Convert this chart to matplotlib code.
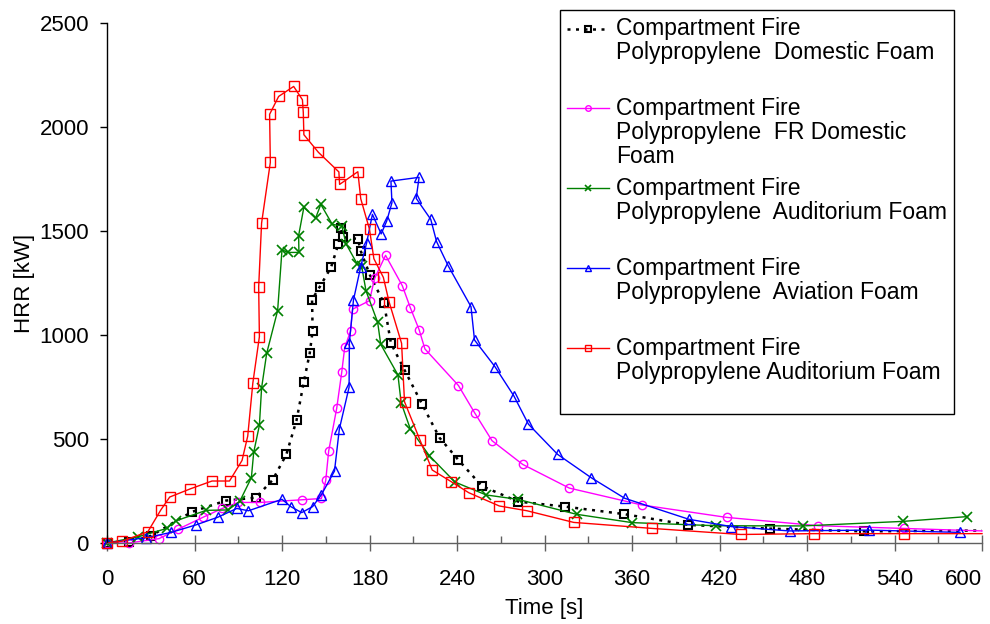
import matplotlib
matplotlib.use("Agg")
import matplotlib.pyplot as plt

plt.rcParams['font.family'] = ['Liberation Sans', 'DejaVu Sans']
plt.rcParams['font.size'] = 16

# Domestic foam (black dotted)
t_dom = [0, 15, 30, 58, 81.6, 102, 113.6, 123, 130, 135, 139, 141, 140.6, 146, 153.6,
         158.6, 160.7, 162, 172, 174, 180.3, 190, 194.7, 204, 216, 228, 241, 257, 282,
         314, 354.5, 398.6, 454.6, 519, 600]
hrr_dom = [0, 3, 34, 149, 204, 218, 303, 426, 591, 776, 912, 1019, 1170, 1233, 1325,
           1436, 1516, 1470, 1462, 1404, 1288, 1152, 960, 832, 668, 506, 399, 274, 199,
           175, 139, 87, 69, 56, 60]

# FR domestic foam (magenta)
t_fr = [0, 15, 35.7, 49, 65.6, 79, 90, 105, 134, 147, 150, 152, 157.5, 161, 163, 167,
        168.4, 180, 183.5, 191, 202.5, 208, 214, 218, 241, 252, 264, 285, 317, 366.6,
        425, 487.8, 546.5, 600]
hrr_fr = [0, 0, 21, 67, 123, 166, 195, 195, 208, 214, 301, 442, 647, 823, 940, 1018,
          1124, 1165, 1272, 1383, 1237, 1131, 1026, 933, 757, 627, 492, 378, 264, 183,
          123, 83, 70, 58]

# Auditorium foam (green)
t_aud = [0, 21.5, 41, 47, 68, 83, 91, 99, 100.6, 104.5, 106, 109.5, 117, 120, 124,
         131.6, 131.4, 135, 143, 146.6, 154.5, 161, 164, 171.7, 174.6, 177.6, 185.6,
         187.7, 199.5, 201.7, 208, 221, 238.6, 260, 281.6, 322, 360, 417.6, 477, 546, 590]
hrr_aud = [0, 30, 70, 106, 157, 159, 200, 314, 436, 566, 745, 912, 1117, 1410, 1397,
           1397, 1478, 1614, 1561, 1628, 1532, 1524, 1437, 1340, 1332, 1212, 1061,
           955, 808, 674, 548, 420, 293, 231, 210, 138, 98, 83, 82, 104, 127]

# Aviation foam (blue)
t_avi = [0, 27, 44, 61, 76, 89, 97, 120, 126, 133.5, 141, 147, 156, 159.3, 166, 166.2,
         169, 174, 178, 182, 188, 191.8, 195.4, 194.7, 214, 212, 222, 226, 234, 249.6,
         252, 266, 279, 289, 309, 332, 355, 399, 428, 468, 522.5, 585]
hrr_avi = [0, 26, 51, 87, 124, 166, 155, 210, 175, 146, 175, 232, 346, 547, 749, 963,
           1168, 1329, 1442, 1580, 1486, 1548, 1636, 1740, 1758, 1657, 1556, 1449, 1332,
           1136, 976, 848, 707, 571, 426, 314, 215, 114, 79, 58, 62, 51]

# Auditorium foam, second test (red)
t_aud2 = [0, 10, 28, 37, 43, 57, 72, 84, 92.6, 96.5, 100, 104.5, 104, 106, 112, 111.5,
          117.7, 128, 134, 134.6, 135, 145, 159, 159.5, 172, 174, 180, 183, 189.5,
          193.4, 202, 204, 214.6, 223, 236, 248, 269, 288, 320, 374, 434.5, 484.6,
          546.5, 600]
hrr_aud2 = [0, 8, 54, 160, 221, 260, 298, 298, 397, 514, 769, 992, 1231, 1538, 1830,
            2061, 2147, 2195, 2131, 2070, 1963, 1878, 1784, 1724, 1785, 1655, 1508,
            1367, 1277, 1160, 960, 679, 495, 351, 295, 242, 178, 155, 99, 70, 41, 45,
            45, 45]

labels = [
    "Compartment Fire\nPolypropylene  Domestic Foam\n",
    "Compartment Fire\nPolypropylene  FR Domestic\nFoam",
    "Compartment Fire\nPolypropylene  Auditorium Foam\n",
    "Compartment Fire\nPolypropylene  Aviation Foam\n",
    "Compartment Fire\nPolypropylene Auditorium Foam\n",
]

fig = plt.figure(figsize=(9.9, 6.24), dpi=100)
ax = fig.add_axes([107 / 990, 1 - 543 / 624, 875 / 990, 520 / 624])

ax.plot(t_dom, hrr_dom, color='black', linestyle=(0, (1.2, 2.2)), linewidth=1.8,
        marker='s', markersize=5.5, markerfacecolor='none', markeredgewidth=1.5,
        markevery=slice(0, -1), label=labels[0], clip_on=False)
ax.plot(t_fr, hrr_fr, color='#ff00ff', linewidth=1.0, marker='o', markersize=6,
        markerfacecolor='none', markeredgewidth=1.0, markevery=slice(0, -1),
        label=labels[1], clip_on=False)
ax.plot(t_aud, hrr_aud, color='#008000', linewidth=1.0, marker='x', markersize=6.5,
        markeredgewidth=1.2, label=labels[2], clip_on=False)
ax.plot(t_avi, hrr_avi, color='#0000ff', linewidth=1.0, marker='^', markersize=6.5,
        markerfacecolor='none', markeredgewidth=1.0, label=labels[3], clip_on=False)
ax.plot(t_aud2, hrr_aud2, color='#ff0000', linewidth=1.0, marker='s', markersize=6.5,
        markerfacecolor='none', markeredgewidth=1.0, markevery=slice(0, -1),
        label=labels[4], clip_on=False)

ax.set_xlim(0, 600)
ax.set_ylim(0, 2500)
ax.set_xticks(range(0, 601, 60))
ax.set_xticks(range(30, 600, 60), minor=True)
ax.set_yticks(range(0, 2501, 500))

ax.spines['top'].set_visible(False)
ax.spines['right'].set_visible(False)
ax.spines['left'].set_linewidth(1.0)
ax.spines['bottom'].set_linewidth(1.0)
ax.spines['bottom'].set_color('#606060')

ax.tick_params(axis='x', which='major', direction='inout', length=12, width=1.0,
               color='#606060', pad=12.5)
ax.tick_params(axis='x', which='minor', direction='in', length=5, width=1.0,
               color='#606060')
ax.tick_params(axis='y', direction='out', length=5, width=1.0, pad=8)
# last label is pulled inside the figure, as in the original
ax.get_xticklabels()[-1].set_horizontalalignment('right')

ax.set_xlabel('Time [s]', labelpad=6)
ax.set_ylabel('HRR [kW]', labelpad=3)

leg = ax.legend(loc='upper left', bbox_to_anchor=(560 / 990, 1 - 10 / 624),
                bbox_transform=fig.transFigure, borderaxespad=0, fancybox=False,
                framealpha=1, edgecolor='black', handlelength=1.85,
                handletextpad=0.3, borderpad=0.3, labelspacing=0.4, fontsize=16.5)
leg.get_frame().set_linewidth(1.0)
for txt in leg.get_texts():
    txt.set_linespacing(1.05)
# put each legend line beside the first line of its label
for h in leg.legend_handles:
    h.set_markersize(4)
    h.set_ydata([y + 17.8 for y in h.get_ydata()])

fig.savefig('out.png', dpi=100)
